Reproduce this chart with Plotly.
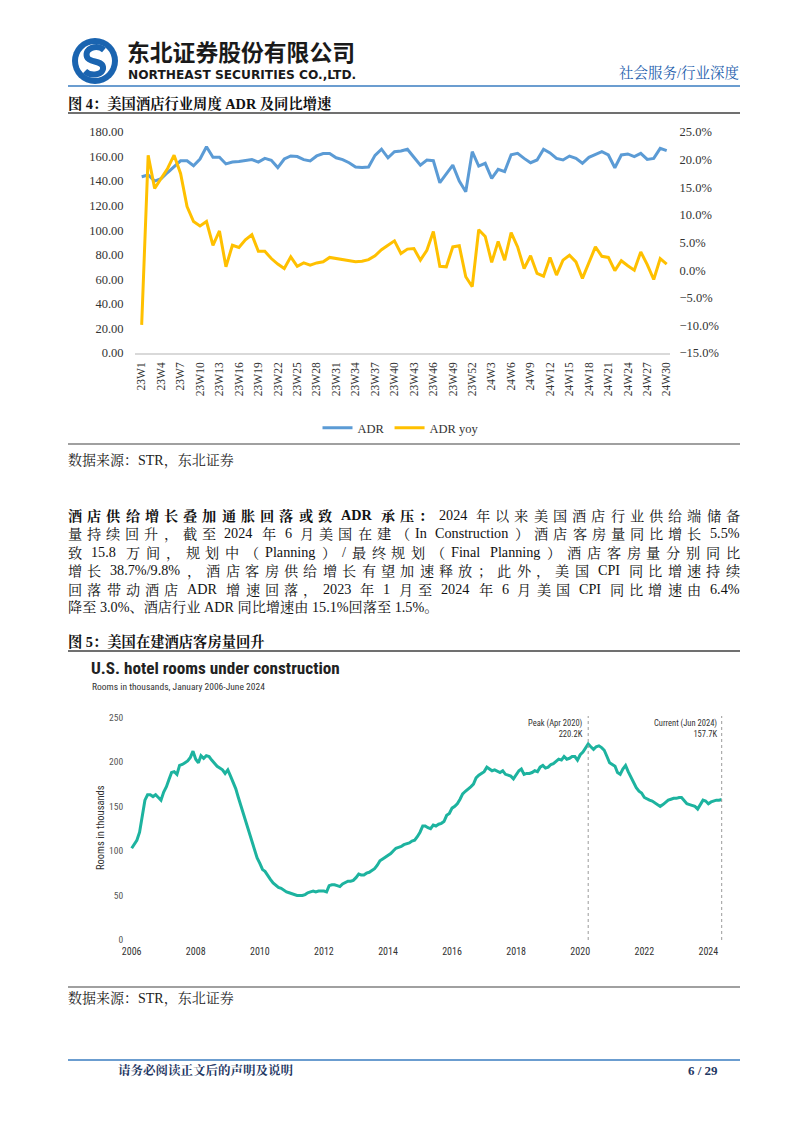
import plotly.graph_objects as go
import pandas as pd

W, H = 802, 1133


def px(x):
    return x / W


def py(y):
    return 1 - y / H


# ---------------- Figure 4 data: weekly ADR and ADR yoy ----------------
weeks = [f"23W{i}" for i in range(1, 53)] + [f"24W{i}" for i in range(1, 31)]
week_ticks = weeks[::3]

adr_2023 = [143.6, 145, 140, 142, 147, 152, 156.5, 156.6, 152.5, 158,
            168, 159.5, 159.5, 154, 155.5, 156, 156.5, 157.5, 155.5, 158.5,
            157, 151, 158, 160.5, 160, 157.5, 156.5, 160.5, 162.5, 162.5,
            159, 157.5, 155, 151.5, 151, 151.5, 161, 166, 159, 164,
            164.5, 166, 159.4, 153, 157.2, 156.6, 138.7, 146, 153, 140,
            131.4, 164]
adr_2024 = [152.3, 154.5, 142.2, 149.6, 147.7, 161.5, 162.6, 158.5, 155.0, 157.2,
            166, 163, 158.5, 157.2, 160.4, 158.5, 154.5, 159.4, 162, 164,
            161.3, 150.9, 161.3, 162.1, 159.9, 162.6, 157.7, 158.5, 166.7, 164.8]
yoy_2023 = [-9.9, 20.8, 14.8, 16.6, 18.4, 20.8, 17.5, 11.5, 8.8, 8.0,
            8.8, 4.5, 7.1, 0.6, 4.5, 4.1, 5.5, 6.4, 3.4, 3.4,
            2.1, 1.1, 0.3, 2.4, 0.7, 1.3, 0.9, 1.3, 1.5, 2.3,
            2.1, 1.8, 1.6, 1.5, 1.6, 1.9, 2.6, 3.7, 4.5, 5.3,
            3.0, 3.8, 3.9, 1.8, 3.6, 7.0, 0.7, 0.6, 4.2, 4.4,
            -1.2, -3.0]
yoy_2024 = [7.3, 6.1, 1.4, 5.2, 1.8, 6.8, 4.2, 0.3, 2.6, -0.6,
            -1.1, 2.3, -0.9, 1.8, 2.7, 1.5, -1.5, 1.2, 4.2, 2.5,
            2.3, -0.1, 1.7, 0.8, 0.0, 3.3, 1.0, -1.7, 2.1, 1.1]
adr = adr_2023 + adr_2024
adr_yoy = yoy_2023 + yoy_2024

# ---------------- Figure 5 data: monthly rooms under construction (K) ----------------
rooms_2006 = [103, 108, 112, 121, 140, 157, 163, 163, 161, 163, 160, 157]
rooms_2007 = [166, 172, 180, 188, 189, 186, 196, 197, 199, 201, 205, 212]
rooms_2008 = [203, 199, 207, 204, 207, 206, 202, 198, 195, 193, 191, 187]
rooms_2009 = [191, 184, 177, 170, 160, 150, 142, 132, 120, 111, 102, 92]
rooms_2010 = [86, 79, 77, 72, 68, 64, 61, 59, 58, 56, 54, 53]
rooms_2011 = [52, 51, 50, 50, 50, 51, 53, 54, 55, 54, 55, 55]
rooms_2012 = [55, 54, 61, 62, 62, 61, 60, 63, 65, 66, 66, 67]
rooms_2013 = [70, 74, 73, 73, 75, 76, 78, 80, 84, 89, 91, 93]
rooms_2014 = [95, 97, 100, 103, 104, 105, 107, 108, 109, 111, 112, 116]
rooms_2015 = [121, 128, 128, 126, 125, 129, 128, 130, 131, 133, 140, 142]
rooms_2016 = [148, 150, 153, 158, 164, 167, 170, 172, 175, 182, 185, 187]
rooms_2017 = [189, 194, 192, 190, 191, 189, 188, 190, 186, 185, 184, 181]
rooms_2018 = [185, 190, 192, 186, 187, 187, 188, 190, 189, 194, 196, 193]
rooms_2019 = [194, 197, 198, 201, 203, 202, 206, 203, 204, 206, 206, 202]
rooms_2020 = [208, 211, 215, 220.2, 217, 214, 217, 218, 216, 213, 206, 199]
rooms_2021 = [197, 195, 188, 186, 192, 196, 189, 183, 176, 171, 167, 165]
rooms_2022 = [160, 158, 157, 156, 154, 152, 150, 152, 155, 157, 158, 159]
rooms_2023 = [159, 160, 160, 157, 153, 152, 151, 150, 147, 152, 157, 156]
rooms_2024 = [153, 155, 156, 157, 157, 157.7]
rooms = (rooms_2006 + rooms_2007 + rooms_2008 + rooms_2009 + rooms_2010 + rooms_2011
         + rooms_2012 + rooms_2013 + rooms_2014 + rooms_2015 + rooms_2016 + rooms_2017
         + rooms_2018 + rooms_2019 + rooms_2020 + rooms_2021 + rooms_2022 + rooms_2023
         + rooms_2024)
months = pd.date_range("2006-01-01", periods=len(rooms), freq="MS")
year_ticks = [f"{y}-01-01" for y in range(2006, 2025, 2)]
peak_date, peak_label = "2020-04-01", "Peak (Apr 2020)<br>220.2K"
current_date, current_label = "2024-06-01", "Current (Jun 2024)<br>157.7K"

SERIF = "Liberation Serif, Times New Roman, Noto Sans CJK SC, serif"
CJK = "Liberation Serif, Noto Serif CJK SC, Noto Sans CJK SC, serif"
CJKONLY = "Noto Serif CJK SC, Noto Sans CJK SC, sans-serif"
NARROW = "Liberation Sans Narrow, Roboto Condensed, Liberation Sans, sans-serif"

fig = go.Figure()

fig.add_trace(go.Scatter(x=weeks, y=adr, name="ADR", mode="lines",
                         line=dict(color="#5b9bd5", width=3), xaxis="x", yaxis="y"))
fig.add_trace(go.Scatter(x=weeks, y=adr_yoy, name="ADR yoy", mode="lines",
                         line=dict(color="#ffc000", width=3), xaxis="x", yaxis="y2"))
fig.add_trace(go.Scatter(x=months, y=rooms, mode="lines", showlegend=False,
                         line=dict(color="#1db39f", width=3), xaxis="x2", yaxis="y3"))

fig.update_layout(
    width=W, height=H, margin=dict(l=0, r=0, t=0, b=0, autoexpand=False),
    paper_bgcolor="white", plot_bgcolor="white",
    xaxis=dict(domain=[px(135), px(670)], anchor="y", type="category",
               range=[-1.03, 81.51], tickmode="array", tickvals=week_ticks,
               tickangle=-90, showline=True, linecolor="#d9d9d9", linewidth=1.5,
               showgrid=False, zeroline=False, ticks="outside", ticklen=3,
               tickcolor="rgba(0,0,0,0)",
               tickfont=dict(family=SERIF, size=11.5, color="#333")),
    yaxis=dict(domain=[py(353), py(132)], anchor="x", range=[0, 180], dtick=20,
               tickformat=".2f", showgrid=False, zeroline=False, showline=False,
               ticks="outside", ticklen=8, tickcolor="rgba(0,0,0,0)",
               tickfont=dict(family=SERIF, size=12.5, color="#333")),
    yaxis2=dict(overlaying="y", side="right", anchor="x", range=[-15, 25], dtick=5,
                tickformat=".1f", ticksuffix="%", showgrid=False, zeroline=False,
                showline=False, ticks="outside", ticklen=6, tickcolor="rgba(0,0,0,0)",
                tickfont=dict(family=SERIF, size=12.5, color="#333")),
    xaxis2=dict(domain=[px(128), px(726)], anchor="y3", type="date",
                range=["2005-11-20", "2024-07-20"], tickmode="array",
                tickvals=year_ticks, tickformat="%Y", showgrid=False, zeroline=False,
                showline=False, ticks="", ticklabelstandoff=4,
                tickfont=dict(family=NARROW, size=10, color="#333")),
    yaxis3=dict(domain=[py(940), py(717.3)], anchor="x2", range=[0, 250], dtick=50,
                showgrid=False, zeroline=False, showline=False,
                ticks="outside", ticklen=2, tickcolor="rgba(0,0,0,0)",
                tickfont=dict(family=NARROW, size=9.5, color="#555")),
    legend=dict(orientation="h", x=0.5, xanchor="center", y=py(428), yanchor="middle",
                font=dict(family=SERIF, size=12.5, color="#333"),
                itemwidth=30, bgcolor="rgba(0,0,0,0)"),
)

shapes = []


def hline(y, x0, x1, color, width):
    shapes.append(dict(type="line", xref="paper", yref="paper", x0=px(x0), x1=px(x1),
                       y0=py(y), y1=py(y), line=dict(color=color, width=width)))


hline(86, 68, 740, "#3a7cc0", 1.5)
hline(113, 68, 740, "#404040", 1.5)
hline(444, 68, 740, "#808080", 1.5)
hline(651, 68, 740, "#404040", 1.5)
hline(987, 68, 740, "#808080", 1.5)
hline(1060, 68, 740, "#3a7cc0", 1.5)

# logo
shapes.append(dict(type="circle", xref="paper", yref="paper",
                   x0=px(72), x1=px(118), y0=py(84), y1=py(38),
                   fillcolor="#1a64b0", line=dict(width=0)))
shapes.append(dict(type="circle", xref="paper", yref="paper",
                   x0=px(78), x1=px(112), y0=py(78), y1=py(44),
                   fillcolor="white", line=dict(width=0)))


def P(x, y):
    return f"{px(x):.5f},{py(y):.5f}"


s_path = (f"M {P(104, 50)} C {P(97, 44)} {P(84, 48)} {P(87, 57)} "
          f"C {P(89, 63)} {P(102, 60)} {P(103, 67)} C {P(104, 75)} {P(91, 77)} {P(85, 71)}")
shapes.append(dict(type="path", xref="paper", yref="paper", path=s_path,
                   line=dict(color="#1a64b0", width=6)))

# chart 2 dotted reference lines
for d in [peak_date, current_date]:
    shapes.append(dict(type="line", xref="x2", yref="paper", x0=d, x1=d,
                       y0=py(940), y1=py(716), line=dict(color="#9a9a9a", width=1, dash="dot")))

fig.update_layout(shapes=shapes)

ann = []


def text(x, y, s, size, family, color="#222", anchor="left", bold=False, yanchor="middle", angle=0):
    ann.append(dict(xref="paper", yref="paper", x=px(x), y=py(y), text=(f"<b>{s}</b>" if bold else s),
                    showarrow=False, xanchor=anchor, yanchor=yanchor, textangle=angle,
                    borderpad=0, borderwidth=0,
                    font=dict(family=family, size=size, color=color),
                    align=anchor if anchor != "center" else "center"))


# header
text(127, 51.5, "东北证券股份有限公司", 22.8, "Noto Sans CJK SC", "#1a1a1a", bold=True)
text(128, 75, "NORTHEAST SECURITIES CO.,LTD.", 12.2, "DejaVu Sans, Liberation Sans", "#1a1a1a", bold=True)
text(740, 72, "社会服务/行业深度", 14.5, CJK, "#1f5fae", anchor="right")

# figure 4
text(68, 103, "图 4：美国酒店行业周度 ADR 及同比增速", 14.3, CJK, "#111", bold=True)
text(68, 461, "数据来源：STR，东北证券", 14, CJK, "#222")

# ---------------- justified paragraph ----------------
TW = {'.': .25, '%': .833, '/': .278, ' ': .25, 'A': .722, 'D': .722, 'R': .667, 'C': .667,
      'P': .556, 'I': .333, 'F': .556, 'n': .5, 's': .389, 't': .278, 'r': .333, 'u': .5,
      'c': .444, 'i': .278, 'o': .5, 'l': .278, 'a': .444, 'g': .5}
FS = 14.2
LEFT, RIGHT = 68, 740
LINE0, LINE_STEP = 515, 18.4


def is_wide(ch):
    return ord(ch) >= 0x2E80


def tokens_of(segments):
    """Split into tokens: each wide (CJK) char alone, latin runs kept together.
    Spaces are not tokens; their width is added to the preceding token."""
    out = []  # [text, bold, trailing_space_count]
    for s, bold in segments:
        buf = ""
        for ch in s:
            if ch == " ":
                if buf:
                    out.append([buf, bold, 0])
                    buf = ""
                if out:
                    out[-1][2] += 1
            elif is_wide(ch):
                if buf:
                    out.append([buf, bold, 0])
                    buf = ""
                out.append([ch, bold, 0])
            else:
                buf += ch
        if buf:
            out.append([buf, bold, 0])
    return out


def tok_width(t, bold):
    if is_wide(t[0]):
        return FS
    w = sum(TW.get(c, 0.5) for c in t) * FS
    return w * (1.06 if bold else 1.02)


def justified_line(segments, y):
    toks = tokens_of(segments)
    widths = [tok_width(t, b) + sp * 0.25 * FS for t, b, sp in toks]
    natural = sum(widths)
    extra = (RIGHT - LEFT - natural) / (len(toks) - 1)
    x = LEFT
    for (t, b, sp), w in zip(toks, widths):
        fam = CJKONLY if is_wide(t[0]) else SERIF
        ann.append(dict(xref="paper", yref="paper", x=px(x), y=py(y),
                        text=(f"<b>{t}</b>" if b else t), showarrow=False,
                        xanchor="left", yanchor="middle", borderpad=0, borderwidth=0,
                        font=dict(family=fam, size=FS, color="#111")))
        x += w + extra


para = [
    [("酒店供给增长叠加通胀回落或致 ADR 承压：", True), ("2024 年以来美国酒店行业供给端储备", False)],
    [("量持续回升，截至 2024 年 6 月美国在建（In Construction）酒店客房量同比增长 5.5%", False)],
    [("致 15.8 万间，规划中（Planning）/最终规划（Final Planning）酒店客房量分别同比", False)],
    [("增长 38.7%/9.8%，酒店客房供给增长有望加速释放；此外，美国 CPI 同比增速持续", False)],
    [("回落带动酒店 ADR 增速回落，2023 年 1 月至 2024 年 6 月美国 CPI 同比增速由 6.4%", False)],
]
last_line = "降至 3.0%、酒店行业 ADR 同比增速由 15.1%回落至 1.5%。"
for i, segs in enumerate(para):
    justified_line(segs, LINE0 + LINE_STEP * i)
text(68, LINE0 + LINE_STEP * 5, last_line, FS, CJK, "#111")

# figure 5
text(68, 641, "图 5：美国在建酒店客房量回升", 14.3, CJK, "#111", bold=True)
text(91, 668, "U.S. hotel rooms under construction", 17.2, NARROW, "#222", bold=True)
text(92, 686, "Rooms in thousands, January 2006-June 2024", 9.5, NARROW, "#333")
text(100, 828, "Rooms in thousands", 10.5, NARROW, "#333", anchor="center", angle=-90)
text(68, 998, "数据来源：STR，东北证券", 14, CJK, "#222")

for d, lab in [(peak_date, peak_label), (current_date, current_label)]:
    ann.append(dict(xref="x2", yref="paper", x=d, y=py(728), text=lab, showarrow=False,
                    xanchor="right", yanchor="middle", xshift=-3, align="right",
                    font=dict(family=NARROW, size=8.5, color="#333")))

# footer
text(118, 1070, "请务必阅读正文后的声明及说明", 12.5, CJK, "#1f3864", bold=True)
text(718, 1070, "6 / 29", 13, SERIF, "#1f3864", anchor="right", bold=True)

fig.update_layout(annotations=ann)

fig.write_html("out.html",
               config={"displayModeBar": False},
               post_script="document.body.style.margin='0';document.body.style.padding='0';"
                           "document.body.style.overflow='hidden';"
                           "document.documentElement.style.overflow='hidden';")
